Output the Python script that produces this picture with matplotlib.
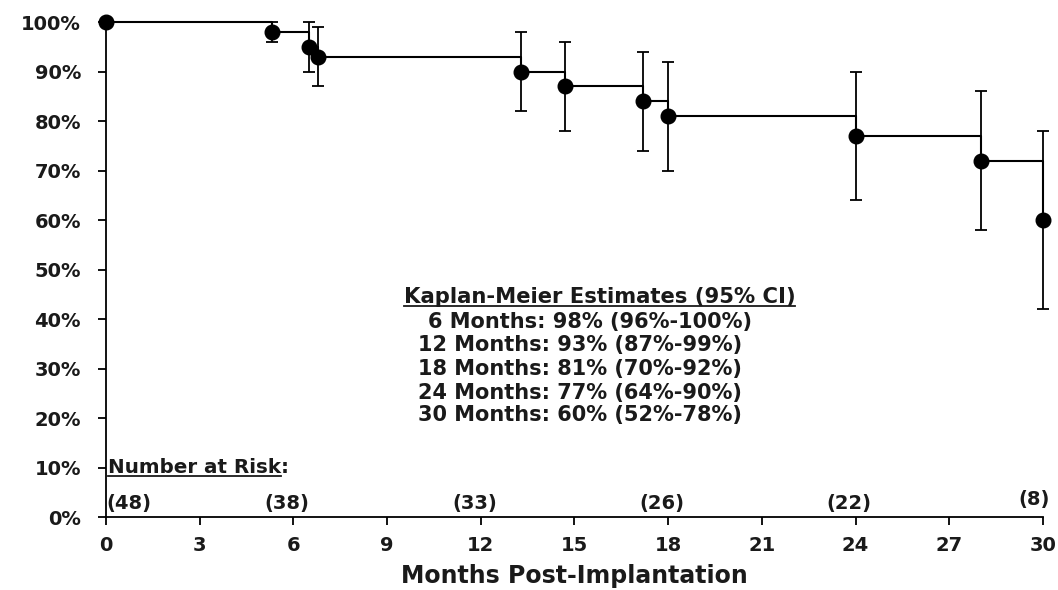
import numpy as np
import matplotlib
matplotlib.use("Agg")
import matplotlib.pyplot as plt
from matplotlib.lines import Line2D

# Kaplan-Meier survival estimates
months = [0.0, 5.3, 6.5, 6.8, 13.3, 14.7, 17.2, 18.0, 24.0, 28.0, 30.0]
survival = [100, 98, 95, 93, 90, 87, 84, 81, 77, 72, 60]
ci_low = [100, 96, 90, 87, 82, 78, 74, 70, 64, 58, 42]
ci_high = [100, 100, 100, 99, 98, 96, 94, 92, 90, 86, 78]

risk_months = [0, 6, 12, 18, 24, 30]
risk_counts = [48, 38, 33, 26, 22, 8]

estimate_lines = ["6 Months: 98% (96%-100%)",
                  "12 Months: 93% (87%-99%)",
                  "18 Months: 81% (70%-92%)",
                  "24 Months: 77% (64%-90%)",
                  "30 Months: 60% (52%-78%)"]

x_ticks = list(range(0, 31, 3))
y_ticks = list(range(0, 101, 10))

INK = "#1a1a1a"
plt.rcParams["font.family"] = "DejaVu Sans"
plt.rcParams["font.weight"] = "bold"

fig = plt.figure(figsize=(10.58, 5.90), dpi=100)
ax = fig.add_axes([0.1002, 0.1237, 0.8856, 0.8390])

x = np.array(months)
y = np.array(survival)
lo = np.array(ci_low)
hi = np.array(ci_high)

ax.step(x, y, where="post", color="black", lw=1.5, clip_on=False, zorder=3)
ax.errorbar(x[1:], y[1:], yerr=[y[1:] - lo[1:], hi[1:] - y[1:]], fmt="none",
            ecolor="black", elinewidth=1.3, capsize=4.3, capthick=1.3,
            clip_on=False, zorder=3)
ax.plot(x, y, "o", color="black", ms=10.5, clip_on=False, zorder=4)

ax.set_xlim(0, 30)
ax.set_ylim(0, 100)
ax.set_xticks(x_ticks)
ax.set_yticks(y_ticks)
ax.set_yticklabels([f"{v}%" for v in y_ticks])
for s in ("top", "right"):
    ax.spines[s].set_visible(False)
for s in ("left", "bottom"):
    ax.spines[s].set_linewidth(1.3)
ax.tick_params(direction="out", length=6, width=1.3, labelsize=14,
               labelcolor=INK)
ax.tick_params(axis="y", pad=12)
ax.tick_params(axis="x", pad=8)

ax.set_xlabel("Months Post-Implantation", fontsize=17, fontweight="bold",
              labelpad=6, color=INK)

# estimates block
title = ax.text(15.8, 44.4, "Kaplan-Meier Estimates (95% CI)", ha="center",
                va="center", fontsize=15.2, color=INK)
line_y = [39.4, 34.7, 30.0, 25.0, 20.6]
for i, (txt, yy) in enumerate(zip(estimate_lines, line_y)):
    ax.text(10.3 if i == 0 else 10.0, yy, txt, ha="left", va="center",
            fontsize=15, color=INK)

# number at risk
nar = ax.text(0.05, 10.0, "Number at Risk", ha="left", va="center",
              fontsize=14.3, color=INK)
for m, n in zip(risk_months, risk_counts):
    if m == 0:
        ax.text(m, 2.8, f"({n})", ha="left", va="center", fontsize=14,
                color=INK)
    elif m == 30:
        ax.text(m - 0.3, 3.6, f"({n})", ha="center", va="center",
                fontsize=14, color=INK)
    else:
        ax.text(m - 0.2, 2.8, f"({n})", ha="center", va="center", fontsize=14,
                color=INK)

fig.canvas.draw()
renderer = fig.canvas.get_renderer()
W, H = fig.bbox.width, fig.bbox.height
for t in (title, nar):
    bb = t.get_window_extent(renderer)
    y0 = bb.y0 + 1
    fig.add_artist(Line2D([bb.x0 / W, bb.x1 / W], [y0 / H, y0 / H],
                          color=INK, lw=1.3))
bb = nar.get_window_extent(renderer)
fig.text(bb.x1 / W, (bb.y0 + bb.y1) / 2 / H, ":", fontsize=14.3, color=INK,
         va="center", ha="left")

fig.savefig("out.png", dpi=100)
